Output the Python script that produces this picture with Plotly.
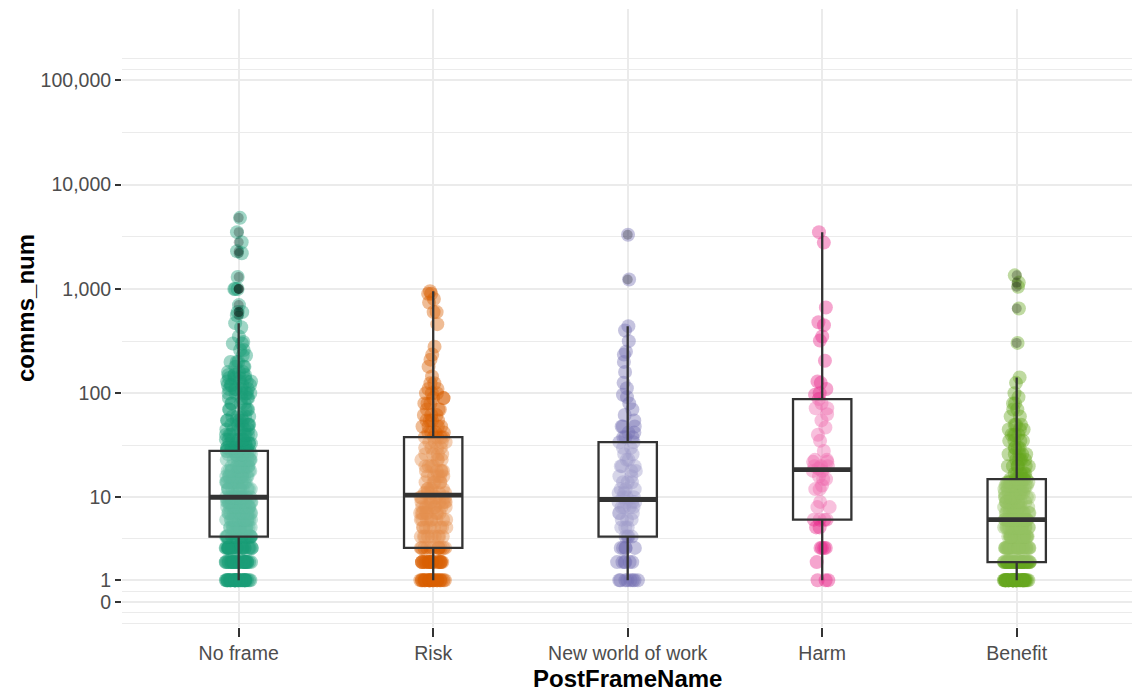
import numpy as np
import plotly.graph_objects as go

# ---------------- data ----------------
categories = ["No frame", "Risk", "New world of work", "Harm", "Benefit"]
colors = ["#1B9E77", "#D95F02", "#7570B3", "#E7298A", "#66A61E"]

nf_values = [1, 2, 3, 4, 5, 6, 7, 8, 9, 10, 12, 14, 16, 18, 20, 23, 26, 28, 30, 33, 36, 40, 45, 50, 55, 60,
             70, 80, 90, 100, 110, 120, 130, 140, 150, 160, 180, 200, 230, 260, 300, 310, 350, 430, 470,
             560, 600, 700, 1000, 1300, 2200, 2300, 2800, 3500, 4800]
nf_counts = [35, 30, 25, 20, 18, 16, 15, 14, 14, 12, 12, 12, 11, 11, 11, 11, 11, 12, 8, 8, 7, 7, 6, 6, 5, 5,
             5, 4, 4, 6, 5, 5, 4, 4, 4, 3, 3, 3, 2, 2, 2, 1, 1, 1, 1,
             1, 2, 1, 3, 1, 1, 1, 1, 1, 1]

risk_values = [1, 2, 3, 4, 5, 6, 7, 8, 9, 10, 11, 12, 14, 16, 18, 20, 23, 26, 30, 34, 38, 42, 48, 55, 62,
               70, 80, 90, 100, 110, 125, 145, 180, 210, 235, 280, 460, 600, 740, 800, 900, 950]
risk_counts = [25, 20, 12, 9, 8, 8, 8, 8, 7, 6, 5, 5, 5, 5, 5, 4, 4, 4, 4, 4, 5, 4, 4, 4, 3,
               3, 3, 3, 3, 2, 2, 1, 1, 1, 1, 1, 1, 2, 1, 1, 2, 1]

nwow_values = [1, 2, 3, 4, 5, 6, 7, 8, 9, 10, 11, 12, 14, 16, 18, 20, 23, 26, 30, 34, 38, 42, 48, 55, 62,
               70, 80, 92, 97, 112, 126, 160, 200, 235, 250, 316, 400, 440, 1230, 3300]
nwow_counts = [8, 6, 5, 4, 3, 3, 3, 4, 4, 3, 2, 3, 3, 2, 2, 3, 2, 2, 2, 2, 3, 2, 3, 1, 1,
               1, 1, 1, 1, 1, 1, 1, 1, 1, 1, 1, 1, 1, 1, 1]

harm_values = [1, 2, 3, 5, 6, 8, 9, 12, 13, 15, 16, 18, 19, 20, 22, 23, 28, 35, 40, 47, 55, 63, 72, 80, 88,
               97, 100, 110, 126, 130, 205, 320, 350, 450, 480, 664, 2780, 3500]
harm_counts = [3, 1, 4, 2, 4, 2, 1, 2, 1, 2, 1, 2, 1, 3, 2, 2, 1, 1, 1, 1, 1, 1, 2, 1, 1,
               1, 1, 1, 1, 1, 1, 1, 1, 1, 1, 1, 1, 1]

ben_values = [1, 2, 3, 4, 5, 6, 7, 8, 9, 10, 11, 12, 13, 14, 15, 17, 20, 23, 26, 30, 35, 40, 45, 50, 60,
              70, 80, 92, 100, 126, 142, 304, 650, 1050, 1150, 1350]
ben_counts = [45, 35, 30, 26, 22, 20, 11, 10, 9, 9, 7, 7, 7, 7, 7, 6, 6, 5, 5, 4, 4, 4, 3, 3, 2,
              2, 2, 1, 1, 1, 1, 1, 1, 1, 1, 1]

# boxplot statistics (data units)
box_lower = [1, 1, 1, 1, 1]
box_q1 = [4, 3, 4, 6, 2]
box_median = [10, 10.5, 9.5, 18.5, 6]
box_q3 = [28, 38, 34, 88, 15]
box_upper = [470, 950, 440, 3500, 142]

y_breaks = [0, 1, 10, 100, 1000, 10000, 100000]
y_labels = ["0", "1", "10", "100", "1,000", "10,000", "100,000"]

all_values = [nf_values, risk_values, nwow_values, harm_values, ben_values]
all_counts = [nf_counts, risk_counts, nwow_counts, harm_counts, ben_counts]


# pseudo-log transform (sigma = 1, base 10)
def pseudo_log(v):
    return np.arcsinh(np.asarray(v, dtype=float) / 2.0) / np.log(10)


def rgba(hex_color, a):
    h = hex_color.lstrip("#")
    r, g, b = int(h[0:2], 16), int(h[2:4], 16), int(h[4:6], 16)
    return f"rgba({r},{g},{b},{a})"


fig = go.Figure()

# jittered points (library jitter)
for i, (vals, cnts) in enumerate(zip(all_values, all_counts)):
    y = np.repeat(np.array(vals, dtype=float), cnts)
    fig.add_trace(go.Box(
        x=[i] * len(y), y=pseudo_log(y),
        boxpoints="all", jitter=0.45, pointpos=0, width=0.3,
        fillcolor="rgba(0,0,0,0)", line=dict(width=0, color="rgba(0,0,0,0)"),
        marker=dict(color=rgba(colors[i], 0.42), size=14, line=dict(width=0)),
        hoveron="points", showlegend=False, name=categories[i],
    ))

# boxplots
fig.add_trace(go.Box(
    x=list(range(len(categories))),
    q1=pseudo_log(box_q1), median=pseudo_log(box_median), q3=pseudo_log(box_q3),
    lowerfence=pseudo_log(box_lower), upperfence=pseudo_log(box_upper),
    boxpoints=False, width=0.3, whiskerwidth=0,
    line=dict(color="#333333", width=2.3), fillcolor="rgba(255,255,255,0.3)",
    showlegend=False, name="box",
))

# thick median lines
mx, my = [], []
half = 0.15
for i, m in enumerate(pseudo_log(box_median)):
    mx += [i - half, i + half, None]
    my += [m, m, None]
fig.add_trace(go.Scatter(x=mx, y=my, mode="lines", line=dict(color="#333333", width=4.8),
                         showlegend=False, hoverinfo="skip"))

# outliers (grey, centred)
ox, oy = [], []
for i, (vals, cnts) in enumerate(zip(all_values, all_counts)):
    y = np.repeat(np.array(vals, dtype=float), cnts)
    out = y[y > box_upper[i]]
    ox += [i] * len(out)
    oy += list(pseudo_log(out))
fig.add_trace(go.Scatter(x=ox, y=oy, mode="markers",
                         marker=dict(color="rgba(0,0,0,0.25)", size=10, line=dict(width=0)),
                         showlegend=False))

# minor grid positions (midpoints between transformed breaks, plus extension)
tb = pseudo_log(y_breaks)
step0 = tb[1] - tb[0]
minor_vals = [tb[0] - step0, tb[0] - step0 / 2]
minor_vals += [(tb[k] + tb[k + 1]) / 2 for k in range(len(tb) - 1)]
minor_vals += [tb[-1] + step0 / 2, tb[-1] + step0]

font_family = "Liberation Sans, Arial, sans-serif"
plot_left, plot_top, plot_bottom = 122, 9, 627
W, H = 1132, 691
plot_h = plot_bottom - plot_top
plot_w = W - plot_left

fig.update_layout(
    width=W, height=H,
    margin=dict(l=plot_left, r=0, t=plot_top, b=H - plot_bottom, pad=0),
    paper_bgcolor="white", plot_bgcolor="white",
    boxmode="overlay", showlegend=False,
    font=dict(family=font_family),
    xaxis=dict(
        tickmode="array", tickvals=list(range(len(categories))), ticktext=categories,
        range=[-0.6, -0.6 + plot_w / 194.5],
        showgrid=True, gridcolor="#EBEBEB", gridwidth=1.7,
        zeroline=False, showline=False,
        ticks="outside", ticklen=9, tickwidth=2, tickcolor="#333333",
        tickfont=dict(size=19.5, color="#4D4D4D", family=font_family),
    ),
    yaxis=dict(
        tickmode="array", tickvals=list(tb), ticktext=y_labels,
        range=[-0.239, 5.682],
        showgrid=True, gridcolor="#EBEBEB", gridwidth=1.7,
        zeroline=False, showline=False,
        ticks="outside", ticklen=6, tickwidth=2, tickcolor="#333333",
        tickfont=dict(size=19.5, color="#4D4D4D", family=font_family),
        minor=dict(tickmode="array", tickvals=minor_vals, showgrid=True,
                   gridcolor="#EBEBEB", gridwidth=0.9, ticks=""),
    ),
    annotations=[
        dict(text="<b>PostFrameName</b>", xref="paper", yref="paper",
             x=0.5, y=(plot_bottom - 678) / plot_h, xanchor="center", yanchor="middle",
             showarrow=False, font=dict(size=24, color="black", family=font_family)),
        dict(text="<b>comms_num</b>", xref="paper", yref="paper",
             x=(25 - plot_left) / plot_w, y=(plot_bottom - 308) / plot_h,
             xanchor="center", yanchor="middle", textangle=-90,
             showarrow=False, font=dict(size=24, color="black", family=font_family)),
    ],
)

fig.write_html("out.html")
